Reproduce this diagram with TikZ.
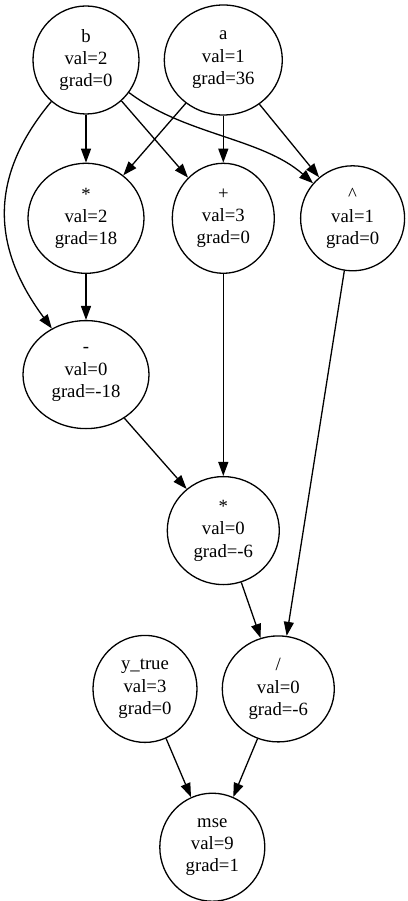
\documentclass[tikz,border=0pt]{standalone}
\usepackage{fontspec}
\setmainfont{Liberation Serif}
\usetikzlibrary{positioning, shapes.geometric, arrows.meta}

\begin{document}
\begin{tikzpicture}[
    x=1pt, y=-1pt,
    value/.style={ellipse, draw, line width=1.3pt, inner sep=0pt, align=center, minimum width=106pt, minimum height=108pt, font=\fontsize{18.7}{22.4}\selectfont},
    relation/.style={-{Triangle[length=14pt, width=10pt]}, line width=1.3pt}
  ]
    \useasboundingbox (0,0) rectangle (407,901);

    % Row 1: inputs b and a
    \node[value] (b) at (86,60) {b\\val=2\\grad=0};
    \node[value, minimum width=118pt, minimum height=110pt, right=24pt of b] (a) {a\\val=1\\grad=36};

    % Row 2: *, +, ^
    \node[value, minimum width=116pt, minimum height=110pt, below=48pt of b] (mulA) {*\\val=2\\grad=18};
    \node[value, minimum width=102pt, minimum height=110pt, below=47pt of a] (add) {+\\val=3\\grad=0};
    \node[value, minimum width=104pt, minimum height=105pt, right=25pt of add] (pow) {\textasciicircum\\val=1\\grad=0};

    % Row 3 and 4: -, *
    \node[value, minimum width=126pt, below=46pt of mulA] (sub) {-\\val=0\\grad=-18};
    \node[value, minimum width=112pt, below=202pt of add] (mulB) {*\\val=0\\grad=-6};

    % Row 5 and 6: y_true, /, mse
    \node[value, minimum width=112pt, minimum height=106pt, below=50pt of mulB, xshift=55pt] (div) {/\\val=0\\grad=-6};
    \node[value, minimum width=104pt, minimum height=107pt, left=24pt of div] (ytrue) {y\_true\\val=3\\grad=0};
    \node[value, minimum width=105pt, below=50pt of div, xshift=-66pt] (mse) {mse\\val=9\\grad=1};

    % Relations
    \draw[relation] (b) -- (mulA);
    \draw[relation] (b) -- (add);
    \draw[relation] (b) .. controls (185,135) and (262,138) .. (pow);
    \draw[relation] (b) .. controls (-10,175) and (-10,245) .. (sub);
    \draw[relation] (a) -- (mulA);
    \draw[relation] (a) -- (add);
    \draw[relation] (a) -- (pow);
    \draw[relation] (mulA) -- (sub);
    \draw[relation] (sub) -- (mulB);
    \draw[relation] (add) -- (mulB);
    \draw[relation] (mulB) -- (div);
    \draw[relation] (pow) -- (div);
    \draw[relation] (ytrue) -- (mse);
    \draw[relation] (div) -- (mse);
  \end{tikzpicture}
\end{document}
